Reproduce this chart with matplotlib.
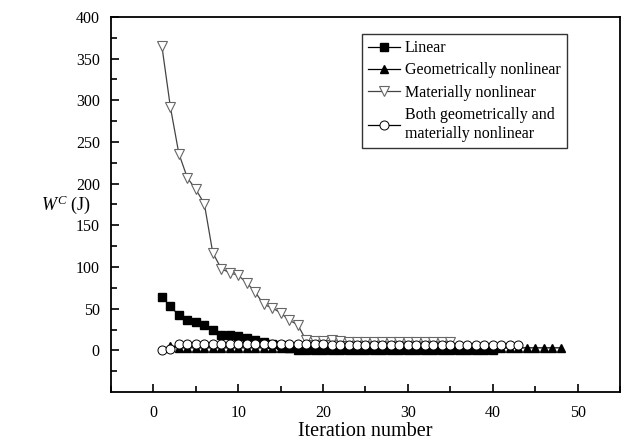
import matplotlib
matplotlib.use('Agg')
import matplotlib.pyplot as plt

plt.rcParams['font.family'] = ['Liberation Serif', 'DejaVu Serif']
plt.rcParams['mathtext.fontset'] = 'custom'
plt.rcParams['mathtext.it'] = 'Liberation Serif:italic'
plt.rcParams['mathtext.rm'] = 'Liberation Serif'

# Linear
it_lin = list(range(1, 41))
w_lin = [64, 53, 42, 37, 34, 30, 25, 19, 19, 17, 15, 13, 10, 8, 6, 3,
         1, 1, 1, 1, 1, 0.5, 0.5, 0.5, 0.5, 0.5, 0.5, 0.5, 0.5, 0.5,
         0.5, 0.5, 0.5, 0.5, 0.5, 0.5, 0.5, 0.5, 0.5, 0.5]

# Geometrically nonlinear
it_geo = list(range(2, 49))
w_geo = [5, 3, 3, 3, 3, 3, 3, 3, 3, 3, 3, 3, 3, 3, 3, 3, 3, 3, 3, 3,
         3, 3, 3, 3, 3, 3, 3, 3, 3, 3, 3, 3, 3, 3, 3, 3, 3, 3, 3, 3,
         3, 3, 3, 3, 3, 3, 3]

# Materially nonlinear
it_mat = list(range(1, 36))
w_mat = [365, 292, 236, 207, 193, 176, 117, 98, 93, 90, 81, 70, 55, 51, 45,
         36, 31, 12, 11, 11, 12, 11, 10, 10, 10, 10, 10, 10, 10, 10,
         10, 10, 10, 10, 10]

# Both geometrically and materially nonlinear
it_both = list(range(1, 44))
w_both = [1, 2, 8, 8, 8, 8, 8, 8, 8, 8, 8, 8, 8, 8, 8, 8, 8, 8, 8, 8,
          7, 7, 7, 7, 7, 7, 7, 7, 7, 7, 7, 7, 7, 7, 7, 7, 7, 7, 7, 7,
          7, 7, 7]

fig = plt.figure(figsize=(6.21, 4.45), dpi=100)
ax = fig.add_axes([0.1787, 0.119, 0.8197, 0.8432])

ax.plot(it_lin, w_lin, color='black', lw=0.9, marker='s', ms=6,
        mfc='black', mec='black', label='Linear')
ax.plot(it_geo, w_geo, color='black', lw=0.9, marker='^', ms=6,
        mfc='black', mec='black', label='Geometrically nonlinear')
ax.plot(it_mat, w_mat, color='#444444', lw=0.9, marker='v', ms=7,
        mfc='white', mec='#666666', mew=0.8, label='Materially nonlinear')
ax.plot(it_both, w_both, color='black', lw=0.9, marker='o', ms=6.5,
        mfc='white', mec='black', mew=0.7,
        label='Both geometrically and\nmaterially nonlinear')

ax.set_xlim(-5, 55)
ax.set_ylim(-50, 400)
ax.set_xticks([0, 10, 20, 30, 40, 50])
ax.set_xticks([-5, 5, 15, 25, 35, 45, 55], minor=True)
ax.set_yticks([0, 50, 100, 150, 200, 250, 300, 350, 400])
ax.set_yticks([-25, 25, 75, 125, 175, 225, 275, 325, 375], minor=True)
ax.tick_params(which='both', direction='in', labelsize=11.5, width=1.2)
ax.tick_params(which='major', length=6)
ax.tick_params(which='minor', length=4)
ax.tick_params(axis='x', pad=9)
ax.tick_params(axis='y', pad=8)
for s in ax.spines.values():
    s.set_linewidth(1.3)

ax.set_xlabel('Iteration number', fontsize=14.5, labelpad=1)
ax.set_ylabel('$W^C$ (J)', fontsize=13, rotation=0, labelpad=7, va='center')

leg = ax.legend(loc='upper right', bbox_to_anchor=(0.896, 0.955), fontsize=11.5,
                frameon=True, fancybox=False, edgecolor='black',
                handlelength=2.0, labelspacing=0.4, borderpad=0.4,
                handletextpad=0.3, borderaxespad=0)
leg.get_frame().set_linewidth(1.0)

fig.savefig('out.png', dpi=100)
